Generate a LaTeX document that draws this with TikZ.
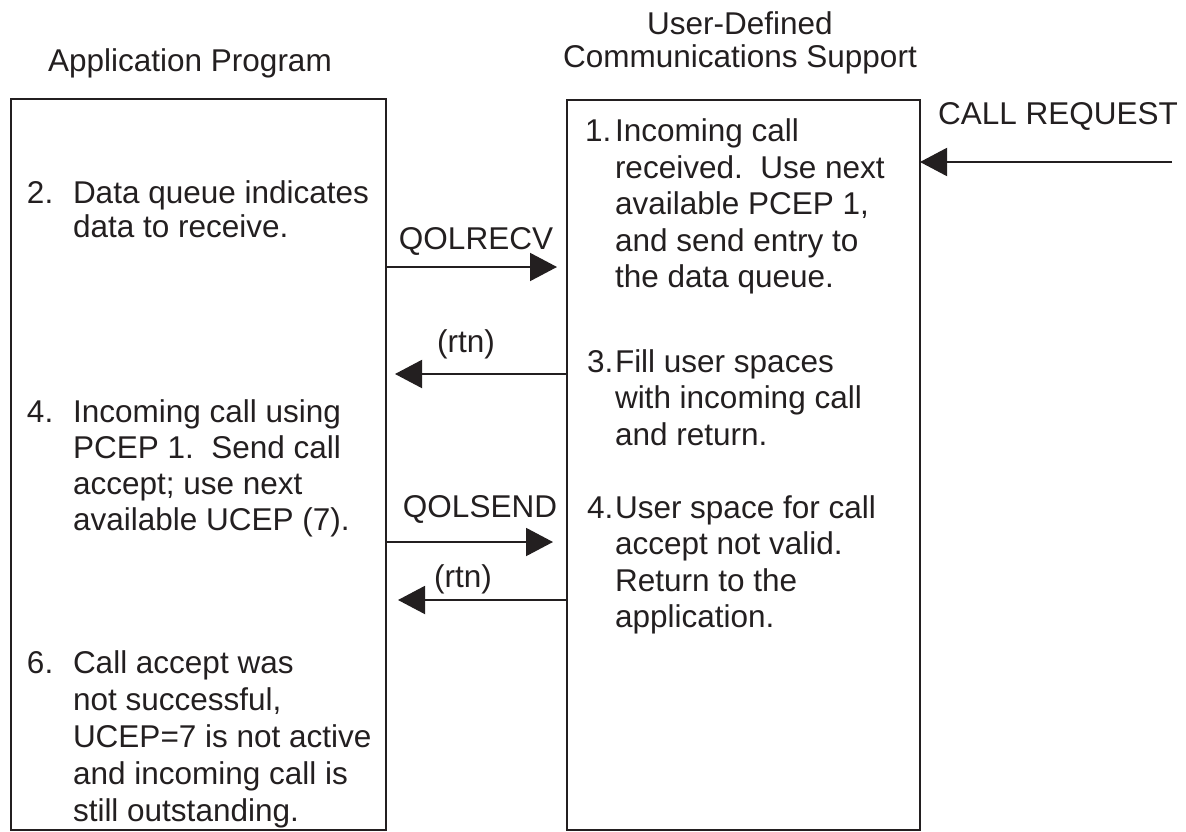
\documentclass[tikz,border=0pt]{standalone}
\usepackage{fontspec}
\setmainfont{Liberation Sans}
\usetikzlibrary{arrows.meta,calc}
\definecolor{ink}{RGB}{35,31,32}
\newcommand{\blocktext}[2]{\parbox[t]{420pt}{\fontsize{31.5pt}{#1}\selectfont\raggedright #2}}
\begin{document}
\begin{tikzpicture}[x=1pt,y=-1pt,
  box/.style={draw=ink, line width=2pt, inner sep=0pt, outer sep=0pt, anchor=north west},
  txt/.style={inner sep=0pt, outer sep=0pt, anchor=base west, text=ink, font=\fontsize{31.5pt}{36.5pt}\selectfont},
  lbl/.style={inner sep=0pt, outer sep=0pt, anchor=base, text=ink, font=\fontsize{31.5pt}{36.5pt}\selectfont},
  msg/.style={draw=ink, line width=2pt, -{Triangle[length=27pt,width=28pt]}}]
\useasboundingbox (0,0) rectangle (1186,832);
% boxes
\node[box, minimum width=375pt, minimum height=731pt] (app) at (11,99) {};
\node[box, minimum width=353pt, minimum height=730pt] (uds) at (567,100) {};
% titles
\node[lbl] (tapp) at (190,72) {Application Program};
\node[lbl] (tuds) at (740,35) {\parbox[t]{420pt}{\fontsize{31.5pt}{33pt}\selectfont\centering User-Defined\\Communications Support}};
% left box texts
\node[txt] (n2) at (27,203) {2.};
\node[txt] (b2) at (73,203) {\blocktext{34pt}{Data queue indicates\\data to receive.}};
\node[txt] (n4a) at (27,422) {4.};
\node[txt] (b4a) at (73,422) {\blocktext{36.3pt}{Incoming call using\\PCEP 1.\ \ Send call\\accept; use next\\available UCEP (7).}};
\node[txt] (n6) at (27,673) {6.};
\node[txt] (b6) at (73,673) {\blocktext{37pt}{Call accept was\\not successful,\\UCEP=7 is not active\\and incoming call is\\still outstanding.}};
% right box texts
\node[txt] (n1) at (585,142) {1.};
\node[txt] (b1) at (615,142) {\blocktext{36.5pt}{Incoming call\\received.\ \ Use next\\available PCEP 1,\\and send entry to\\the data queue.}};
\node[txt] (n3) at (587,372) {3.};
\node[txt] (b3) at (615,372) {\blocktext{36.5pt}{Fill user spaces\\with incoming call\\and return.}};
\node[txt] (n4b) at (587,518) {4.};
\node[txt] (b4b) at (615,518) {\blocktext{36.5pt}{User space for call\\accept not valid.\\Return to the\\application.}};
% arrow labels
\node[lbl] (lrecv) at (476,249) {QOLRECV};
\node[lbl] (lrtn1) at (466,352) {(rtn)};
\node[lbl] (lsend) at (480,517) {QOLSEND};
\node[lbl] (lrtn2) at (463,587) {(rtn)};
\node[txt] (lcall) at (938,125) {CALL REQUEST};
% connectors
\coordinate (callsrc) at (1172,162);
\draw[msg] (app.east |- 0,267) -- ($(uds.west |- 0,267)+(-10,0)$);
\draw[msg] (uds.west |- 0,374) -- ($(app.east |- 0,374)+(9,0)$);
\draw[msg] (app.east |- 0,542) -- ($(uds.west |- 0,542)+(-14,0)$);
\draw[msg] (uds.west |- 0,600) -- ($(app.east |- 0,600)+(12,0)$);
\draw[msg] (callsrc) -- (uds.east |- callsrc);
\end{tikzpicture}
\end{document}
